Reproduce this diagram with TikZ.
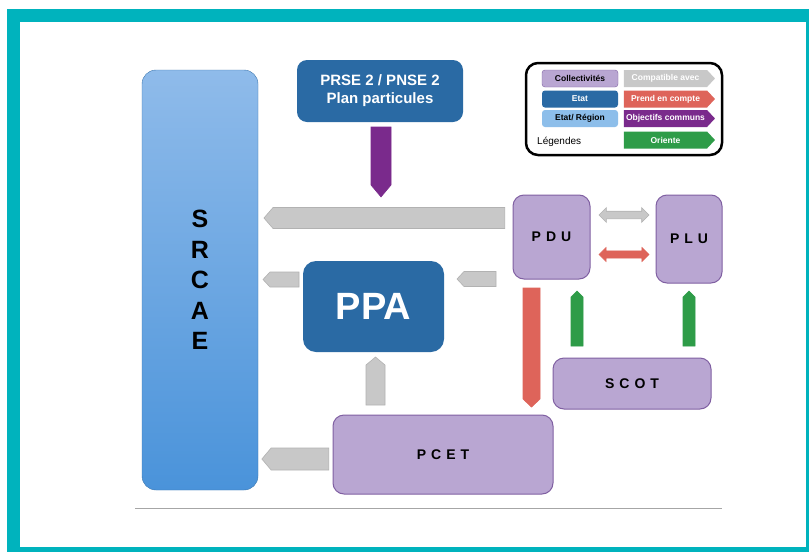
\documentclass[tikz,border=0pt]{standalone}
\usepackage{fontspec}
\setmainfont{Liberation Sans}
\usetikzlibrary{shapes.symbols,shapes.arrows}

\definecolor{frameteal}{RGB}{0,179,189}
\definecolor{lavfill}{RGB}{185,166,210}
\definecolor{lavline}{RGB}{128,96,162}
\definecolor{etatblue}{RGB}{42,106,164}
\definecolor{regionblue}{RGB}{141,190,234}
\definecolor{srcaetop}{RGB}{143,187,234}
\definecolor{srcaebot}{RGB}{74,147,218}
\definecolor{compgrey}{RGB}{200,200,200}
\definecolor{prendred}{RGB}{222,100,90}
\definecolor{objpurple}{RGB}{122,42,140}
\definecolor{orientgreen}{RGB}{46,156,72}

\tikzset{
  collbox/.style={draw=lavline, line width=1pt, fill=lavfill, rounded corners=11pt, inner sep=0pt,
    font=\fontsize{14}{16}\bfseries\selectfont},
  etatbox/.style={fill=etatblue, rounded corners=10pt, inner sep=0pt, text=white},
  blockarr/.style={signal, inner sep=0pt, draw=black!30, line width=0.6pt},
  greyarr/.style={blockarr, fill=compgrey},
  legbox/.style={rounded corners=3pt, minimum width=76pt, minimum height=17pt, inner sep=0pt,
    font=\fontsize{8.5}{10}\bfseries\selectfont},
  legarr/.style={signal, signal to=east, signal pointer angle=94, minimum width=91pt, minimum height=17pt,
    inner sep=0pt, text=white, font=\fontsize{8.5}{10}\bfseries\selectfont}
}

\begin{document}
\begin{tikzpicture}[x=1pt, y=-1pt]
	%%%%% FRAME %%%%%
	\useasboundingbox (0,0) rectangle (809,552);
	\fill[frameteal] (7,9) rectangle (809,552);
	\fill[white] (20,22) rectangle (806,547);
	\draw[black!35, line width=1pt] (135,508) -- (722,508);

	%%%%% BOXES %%%%%
	\node[rounded corners=14pt, draw=srcaebot!80!black, top color=srcaetop, bottom color=srcaebot,
		minimum width=116pt, minimum height=420pt, align=center,
		font=\fontsize{25}{30.5}\bfseries\selectfont] (srcae) at (200,280) {S\\R\\C\\A\\E};
	\node[etatbox, minimum width=166pt, minimum height=62pt, align=center,
		font=\fontsize{15}{18}\bfseries\selectfont] (prse) at (380,91) {PRSE 2 / PNSE 2\\Plan particules};
	\node[etatbox, rounded corners=13pt, minimum width=141pt, minimum height=91pt,
		font=\fontsize{38}{40}\bfseries\selectfont] (ppa) at (373.5,306.5) {PPA};
	\node[collbox, minimum width=77pt, minimum height=84pt] (pdu) at (551.5,237) {P\kern5pt D\kern5pt U};
	\node[collbox, minimum width=66pt, minimum height=88pt] (plu) at (689,239) {P\kern5pt L\kern5pt U};
	\node[collbox, minimum width=158pt, minimum height=51pt] (scot) at (632,383.5) {S\kern5pt C\kern5pt O\kern5pt T};
	\node[collbox, minimum width=220pt, minimum height=79pt] (pcet) at (443,454.5) {P\kern5pt C\kern5pt E\kern5pt T};

	%%%%% BLOCK ARROWS %%%%%
	\node[blockarr, fill=objpurple, draw=objpurple, signal to=south, signal pointer angle=80,
		minimum width=20pt, minimum height=58pt] (prse-ppa) at (381,156) {};
	\node[greyarr, signal to=west, signal pointer angle=98, minimum width=241pt, minimum height=21pt] (pdu-srcae) at (389,218) {};
	\node[greyarr, signal to=west, signal pointer angle=94, minimum width=36pt, minimum height=15pt] (ppa-srcae) at (284.5,279.5) {};
	\node[greyarr, signal to=west, signal pointer angle=94, minimum width=39pt, minimum height=15pt] (pdu-ppa) at (480,279) {};
	\node[greyarr, signal to=north, signal pointer angle=100, minimum width=19pt, minimum height=40pt] (pcet-ppa) at (375.5,385) {};
	\node[greyarr, signal to=west, signal pointer angle=100, minimum width=67pt, minimum height=22pt] (pcet-srcae) at (300,459) {};
	\node[blockarr, fill=prendred, draw=prendred, signal to=south, signal pointer angle=93,
		minimum width=17pt, minimum height=111pt] (pdu-pcet) at (531.5,343.5) {};
	\node[blockarr, fill=orientgreen, draw=orientgreen, signal to=north, signal pointer angle=90,
		minimum width=12pt, minimum height=49pt] (scot-pdu) at (577,321.5) {};
	\node[blockarr, fill=orientgreen, draw=orientgreen, signal to=north, signal pointer angle=90,
		minimum width=12pt, minimum height=49pt] (scot-plu) at (689,321.5) {};
	\node[double arrow, inner sep=0pt, text height=7pt, text depth=0pt, double arrow head extend=3.5pt,
		minimum height=50pt, fill=compgrey, draw=black!30, line width=0.6pt] (pdu-plu-a) at (624,215) {};
	\node[double arrow, inner sep=0pt, text height=7pt, text depth=0pt, double arrow head extend=3.5pt,
		minimum height=50pt, fill=prendred, draw=prendred] (pdu-plu-b) at (624,254.5) {};

	%%%%% LEGEND %%%%%
	\draw[line width=2.5pt, rounded corners=12pt, fill=white] (526,63) rectangle (722,155);
	\node[legbox, fill=lavfill, draw=lavline] (leg-coll) at (580,78.5) {Collectivités};
	\node[legbox, fill=etatblue, text=white] (leg-etat) at (580,99) {Etat};
	\node[legbox, fill=regionblue] (leg-region) at (580,118.5) {Etat/ Région};
	\node[anchor=west, inner sep=0pt, font=\fontsize{10}{12}\selectfont] (leg-title) at (537,142) {Légendes};
	\node[legarr, fill=compgrey] (leg-comp) at (665.5,78.5) {Compatible avec};
	\node[legarr, fill=prendred] (leg-prend) at (665.5,99) {Prend en compte};
	\node[legarr, fill=objpurple] (leg-obj) at (665.5,118.5) {Objectifs communs};
	\node[legarr, fill=orientgreen] (leg-orient) at (665.5,140) {Oriente};
\end{tikzpicture}
\end{document}
